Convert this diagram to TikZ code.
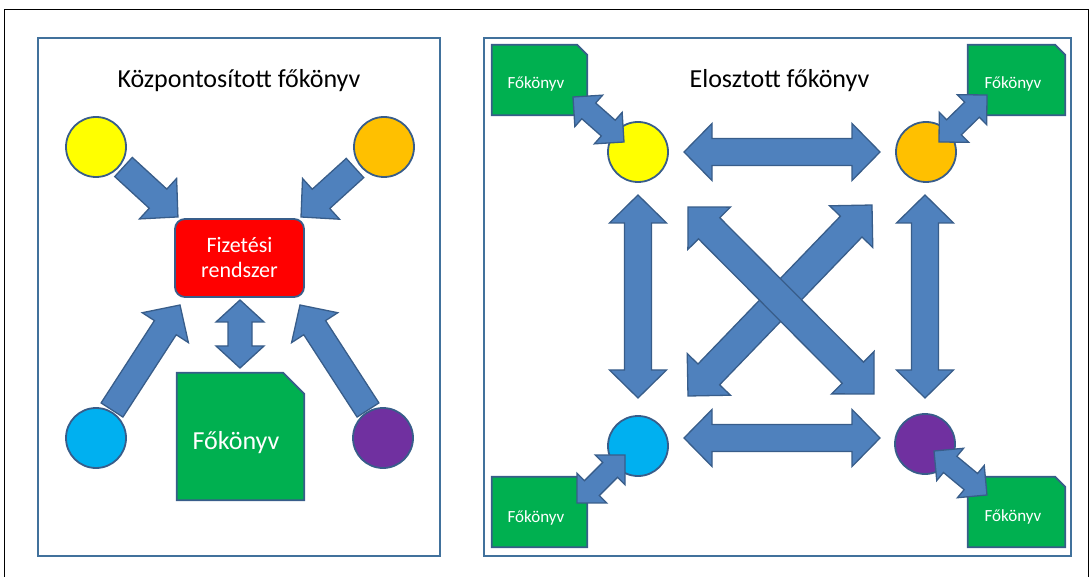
\documentclass[tikz,border=0pt]{standalone}
\usepackage{fontspec}
\setmainfont{Carlito}
\usetikzlibrary{calc}

\definecolor{arrowfill}{HTML}{4F81BD}
\definecolor{edgeblue}{HTML}{385D8A}
\definecolor{panelblue}{HTML}{41719C}
\definecolor{ledgergreen}{HTML}{00B050}
\definecolor{partyyellow}{HTML}{FFFF00}
\definecolor{partyorange}{HTML}{FFC000}
\definecolor{partyblue}{HTML}{00B0F0}
\definecolor{partypurple}{HTML}{7030A0}

\tikzset{
  panel/.style={draw=panelblue, line width=2.2pt},
  blockarrow/.style={fill=arrowfill, draw=edgeblue, line width=1.3pt, line join=miter},
  party/.style={circle, draw=edgeblue, line width=1.8pt, minimum size=60pt, inner sep=0pt},
  ledgerframe/.style={fill=ledgergreen, draw=edgeblue, line width=1.8pt, line join=miter},
  slot/.style={rectangle, inner sep=0pt, draw=none},
  titletext/.style={anchor=base, inner sep=0pt, font=\fontsize{26}{31}\selectfont},
  bigledgertext/.style={anchor=base, inner sep=0pt, text=white, font=\fontsize{26}{31}\selectfont},
  smallledgertext/.style={anchor=base, inner sep=0pt, text=white, font=\fontsize{17}{20}\selectfont},
}

% direction and length between two named points
\newcommand\arrowgeom[2]{%
  \pgfmathanglebetweenpoints{\pgfpointanchor{#1}{center}}{\pgfpointanchor{#2}{center}}%
  \xdef\arAng{\pgfmathresult}%
  \pgfpointdiff{\pgfpointanchor{#1}{center}}{\pgfpointanchor{#2}{center}}%
  \pgfgetlastxy{\arDx}{\arDy}%
  \pgfmathveclen{\arDx}{\arDy}%
  \xdef\arLen{\pgfmathresult}}

% block arrow: from, to, shaft width, head width, head length
\newcommand\singleblock[5]{%
  \arrowgeom{#1}{#2}%
  \pgfmathsetmacro\arS{#3/2}\pgfmathsetmacro\arH{#4/2}\pgfmathsetmacro\arB{\arLen-#5}%
  \draw[blockarrow, shift={(#1)}, rotate=\arAng]
    (0pt,-\arS pt) -- (\arB pt,-\arS pt) -- (\arB pt,-\arH pt) -- (\arLen pt,0pt)
    -- (\arB pt,\arH pt) -- (\arB pt,\arS pt) -- (0pt,\arS pt) -- cycle;}

% two-headed block arrow: tip, tip, shaft width, head width, head length
\newcommand\doubleblock[5]{%
  \arrowgeom{#1}{#2}%
  \pgfmathsetmacro\arS{#3/2}\pgfmathsetmacro\arH{#4/2}%
  \pgfmathsetmacro\arB{\arLen-#5}\pgfmathsetmacro\arF{#5}%
  \draw[blockarrow, shift={(#1)}, rotate=\arAng]
    (0pt,0pt) -- (\arF pt,\arH pt) -- (\arF pt,\arS pt) -- (\arB pt,\arS pt)
    -- (\arB pt,\arH pt) -- (\arLen pt,0pt) -- (\arB pt,-\arH pt) -- (\arB pt,-\arS pt)
    -- (\arF pt,-\arS pt) -- (\arF pt,-\arH pt) -- cycle;}

% ledger sheet with the top right corner cut off
\newcommand\ledgersheet[2]{%
  \draw[ledgerframe] (#1.south west) -- (#1.north west)
    -- ($(#1.north east)+(-#2pt,0pt)$) -- ($(#1.north east)+(0pt,-#2pt)$)
    -- (#1.south east) -- cycle;}

\begin{document}
\begin{tikzpicture}[x=1pt, y=-1pt]
\useasboundingbox (0,0) rectangle (1090,577);

% outer frame
\draw[black, line width=1pt] (4,577) -- (4,10) -- (1088.5,10) -- (1088.5,577);

% panels
\draw[panel] (38,38) rectangle (440,556);
\draw[panel] (484,38) rectangle (1071,556);

% ---------- centralised ledger ----------
\node[titletext] (lefttitle) at (239,88) {Központosított főkönyv};

\node[party, fill=partyyellow] (ly) at (96,147) {};
\node[party, fill=partyorange] (lo) at (384,147) {};
\node[party, fill=partyblue]   (lb) at (96,438) {};
\node[party, fill=partypurple] (lp) at (383,438) {};

\node[rectangle, rounded corners=10pt, fill=red, draw=edgeblue, line width=1.8pt,
      minimum width=129pt, minimum height=78pt, align=center, text=white,
      font=\fontsize{22}{25}\selectfont] (pay) at (239.5,258) {Fizetési\\rendszer};

\node[slot, minimum width=127pt, minimum height=127pt] (ledger) at (240.5,436.5) {};
\ledgersheet{ledger}{21}
\node[bigledgertext] (ledgerlabel) at (236,449) {Főkönyv};

\coordinate (lyS) at (123.5,167); \coordinate (lyT) at (178,217);
\coordinate (loS) at (355,168);   \coordinate (loT) at (301,217);
\coordinate (lbS) at (112,410);   \coordinate (lbT) at (180,305);
\coordinate (lpS) at (368,410);   \coordinate (lpT) at (300,305);
\coordinate (payT) at (240,300);  \coordinate (ledgerT) at (240,368);

\singleblock{lyS}{lyT}{26}{55}{27}
\singleblock{loS}{loT}{26}{55}{27}
\singleblock{lbS}{lbT}{26}{55}{27}
\singleblock{lpS}{lpT}{26}{55}{27}
\doubleblock{payT}{ledgerT}{24}{48}{22}

% ---------- distributed ledger ----------
\node[titletext] (righttitle) at (779.5,88) {Elosztott főkönyv};

\node[slot, minimum width=95pt, minimum height=70pt] (dtl) at (539.5,80) {};
\node[slot, minimum width=97pt, minimum height=70pt] (dtr) at (1016.5,80) {};
\node[slot, minimum width=95pt, minimum height=70pt] (dbl) at (539.5,512) {};
\node[slot, minimum width=97pt, minimum height=70pt] (dbr) at (1016.5,512) {};
\ledgersheet{dtl}{10}
\ledgersheet{dtr}{10}
\ledgersheet{dbl}{10}
\ledgersheet{dbr}{10}
\node[smallledgertext] (dtltext) at (536,89) {Főkönyv};
\node[smallledgertext] (dtrtext) at (1013,89) {Főkönyv};
\node[smallledgertext] (dbltext) at (536,522) {Főkönyv};
\node[smallledgertext] (dbrtext) at (1013,521) {Főkönyv};

\node[party, fill=partyyellow] (ry) at (638,152) {};
\node[party, fill=partyorange] (ro) at (926,152) {};
\node[party, fill=partyblue]   (rb) at (638,446) {};
\node[party, fill=partypurple] (rp) at (925,444) {};

% ledger links
\coordinate (tlA) at (573,97);  \coordinate (tlB) at (624,142);
\coordinate (trA) at (987,95);  \coordinate (trB) at (939,142);
\coordinate (blA) at (625,455); \coordinate (blB) at (577,503);
\coordinate (brA) at (934,451); \coordinate (brB) at (987,495);
\doubleblock{tlA}{tlB}{21}{42}{21}
\doubleblock{trA}{trB}{21}{42}{21}
\doubleblock{blA}{blB}{21}{42}{21}
\doubleblock{brA}{brB}{21}{42}{21}

% peer links
\coordinate (topL) at (684,152); \coordinate (topR) at (880,152);
\coordinate (botL) at (684,438); \coordinate (botR) at (880,438);
\coordinate (lefU) at (638,195); \coordinate (lefD) at (638,398);
\coordinate (rigU) at (925,195); \coordinate (rigD) at (925,398);
\coordinate (xBL) at (688,396);  \coordinate (xTR) at (872,205);
\coordinate (xTL) at (688,207);  \coordinate (xBR) at (874,394);
\doubleblock{topL}{topR}{27}{57}{28}
\doubleblock{botL}{botR}{27}{57}{28}
\doubleblock{lefU}{lefD}{27}{57}{28}
\doubleblock{rigU}{rigD}{27}{57}{28}
\doubleblock{xBL}{xTR}{30}{60}{30}
\doubleblock{xTL}{xBR}{30}{60}{30}
\end{tikzpicture}
\end{document}
